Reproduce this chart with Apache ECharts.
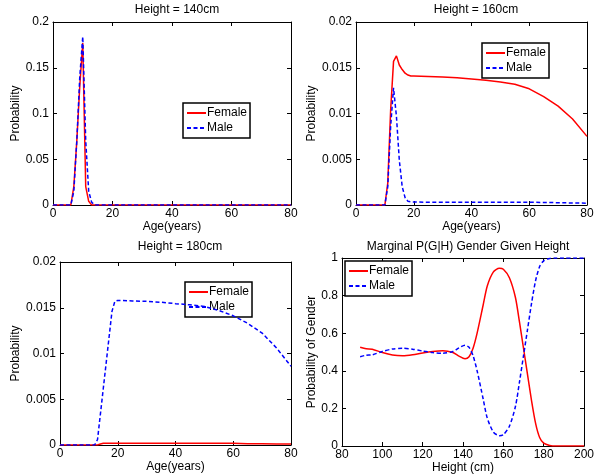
<!DOCTYPE html>
<html><head><meta charset="utf-8">
<script src="https://cdn.jsdelivr.net/npm/echarts@6/dist/echarts.min.js"></script>
<style>html,body{margin:0;padding:0;background:#fff}#c{width:600px;height:475px}</style>
</head><body><div id="c"></div><script>
// ---- Data ----
const titles = ['Height = 140cm', 'Height = 160cm', 'Height = 180cm', 'Marginal P(G|H) Gender Given Height'];
const seriesNames = ['Female', 'Male'];

const ages140 = [0, 5, 6, 7, 8, 9, 10, 11, 12, 13, 14, 15, 20, 40, 60, 80];
const female140 = [0, 0, 0, 0.02, 0.07, 0.13, 0.177, 0.02, 0.004, 0, 0, 0, 0, 0, 0, 0];
const male140 = [0, 0, 0, 0.015, 0.07, 0.14, 0.184, 0.07, 0.015, 0.003, 0, 0, 0, 0, 0, 0];

const ages160 = [0, 9, 10, 11, 12, 13, 14, 15, 16, 17, 18, 19, 20, 25, 30, 35, 40, 45, 50, 55, 60, 65, 70, 75, 80];
const female160 = [0, 0, 0, 0.0024, 0.0104, 0.0157, 0.0163, 0.0153, 0.0148, 0.0144, 0.0142, 0.0141, 0.0141, 0.01405, 0.01398, 0.0139, 0.01378, 0.01363, 0.01345, 0.0132, 0.0127, 0.01185, 0.0108, 0.0094, 0.0075];
const male160 = [0, 0, 0, 0.002, 0.0086, 0.0128, 0.0097, 0.0049, 0.002, 0.0008, 0.0004, 0.00035, 0.00033, 0.0003, 0.0003, 0.0003, 0.0003, 0.0003, 0.0003, 0.0003, 0.0003, 0.00028, 0.00025, 0.00022, 0.0002];

const ages180 = [0, 12, 13, 14, 15, 16, 17, 18, 19, 20, 25, 30, 35, 40, 45, 50, 55, 60, 65, 70, 75, 80];
const female180 = [0, 0, 0, 0.0001, 0.0002, 0.0002, 0.0002, 0.0002, 0.0002, 0.0002, 0.0002, 0.0002, 0.0002, 0.0002, 0.0002, 0.0002, 0.0002, 0.0002, 0.00015, 0.00015, 0.0001, 0.0001];
const male180 = [0, 0, 0.0006, 0.0034, 0.0062, 0.009, 0.0118, 0.0146, 0.0157, 0.0158, 0.01575, 0.0157, 0.0156, 0.01545, 0.01532, 0.01515, 0.0147, 0.01412, 0.0133, 0.01223, 0.0106, 0.0086];

const heights = [89, 92, 95, 100, 105, 110, 115, 120, 125, 130, 135, 138, 141, 143, 145, 147, 150, 152, 155, 158, 160, 163, 166, 168, 170, 172, 174, 176, 178, 180, 183, 186, 190, 195, 200];
const femaleMarg = [0.525, 0.517, 0.515, 0.497, 0.484, 0.480, 0.485, 0.495, 0.503, 0.507, 0.497, 0.478, 0.464, 0.475, 0.52, 0.60, 0.75, 0.85, 0.925, 0.945, 0.94, 0.895, 0.79, 0.66, 0.52, 0.38, 0.24, 0.12, 0.045, 0.015, 0.003, 0, 0, 0, 0];
const maleMarg = [0.475, 0.483, 0.485, 0.503, 0.516, 0.520, 0.515, 0.505, 0.497, 0.493, 0.503, 0.522, 0.536, 0.525, 0.48, 0.40, 0.25, 0.15, 0.075, 0.055, 0.06, 0.105, 0.21, 0.34, 0.48, 0.62, 0.76, 0.88, 0.955, 0.985, 0.997, 1, 1, 1, 1];

const xTicks = [{min: 0, max: 80, interval: 20}, {min: 0, max: 80, interval: 20}, {min: 0, max: 80, interval: 20}, {min: 80, max: 200, interval: 20}];
const yTicks = [{min: 0, max: 0.2, interval: 0.05}, {min: 0, max: 0.02, interval: 0.005}, {min: 0, max: 0.02, interval: 0.005}, {min: 0, max: 1, interval: 0.2}];
const xNames = ['Age(years)', 'Age(years)', 'Age(years)', 'Height (cm)'];
const yNames = ['Probability', 'Probability', 'Probability', 'Probability of Gender'];

// ---- Layout / style ----
const FONT = 'Liberation Sans, Arial, Helvetica, sans-serif';
const grids = [
  {left: 53, top: 22, width: 238, height: 183},
  {left: 356, top: 22, width: 231, height: 183},
  {left: 60, top: 262, width: 231, height: 183},
  {left: 342, top: 258, width: 242, height: 188}
];
const yNameGaps = [28, 32, 33, 19];
const titlePos = [[172, -1], [471, -1], [175, 236], [463, 236]];
const legendPos = [[183, 103], [482, 43], [185, 282], [345, 261]];

function zip(xs, ys) { return xs.map((x, i) => [x, ys[i]]); }
const seriesData = [
  [zip(ages140, female140), zip(ages140, male140)],
  [zip(ages160, female160), zip(ages160, male160)],
  [zip(ages180, female180), zip(ages180, male180)],
  [zip(heights, femaleMarg), zip(heights, maleMarg)]
];

const axisLine = {show: true, onZero: false, lineStyle: {color: '#000', width: 1}};
const axisTick = {show: true, inside: true, length: 4, lineStyle: {color: '#000'}};
const labelStyle = {color: '#000', fontSize: 12, fontFamily: FONT};

const xAxis = [], yAxis = [], series = [], title = [], legend = [];
grids.forEach((g, i) => {
  xAxis.push({type: 'value', gridIndex: i, position: 'bottom', min: xTicks[i].min, max: xTicks[i].max, interval: xTicks[i].interval,
    axisLine, axisTick, splitLine: {show: false}, axisLabel: Object.assign({margin: 3}, labelStyle),
    name: xNames[i], nameLocation: 'middle', nameGap: 15, nameTextStyle: labelStyle});
  xAxis.push({type: 'value', gridIndex: i, position: 'top', min: xTicks[i].min, max: xTicks[i].max, interval: xTicks[i].interval,
    axisLine, axisTick, splitLine: {show: false}, axisLabel: {show: false}});
  yAxis.push({type: 'value', gridIndex: i, position: 'left', min: yTicks[i].min, max: yTicks[i].max, interval: yTicks[i].interval,
    axisLine, axisTick, splitLine: {show: false}, axisLabel: Object.assign({margin: 4}, labelStyle),
    name: yNames[i], nameLocation: 'middle', nameGap: yNameGaps[i], nameTextStyle: labelStyle});
  yAxis.push({type: 'value', gridIndex: i, position: 'right', min: yTicks[i].min, max: yTicks[i].max, interval: yTicks[i].interval,
    axisLine, axisTick, splitLine: {show: false}, axisLabel: {show: false}});
  series.push({name: seriesNames[0], type: 'line', xAxisIndex: 2 * i, yAxisIndex: 2 * i, data: seriesData[i][0],
    symbol: 'none', smooth: i === 3 ? 0.25 : false, lineStyle: {color: '#ff0000', width: 1.5, type: 'solid'}, itemStyle: {color: '#ff0000'}, z: 3});
  series.push({name: seriesNames[1], type: 'line', xAxisIndex: 2 * i, yAxisIndex: 2 * i, data: seriesData[i][1],
    symbol: 'none', smooth: i === 3 ? 0.25 : false, lineStyle: {color: '#0000ff', width: 1.5, type: [4, 2.5]}, itemStyle: {color: '#0000ff'}, z: 4});
  title.push({text: titles[i], left: titlePos[i][0], top: titlePos[i][1], textAlign: 'center',
    textStyle: {color: '#000', fontSize: 12, fontWeight: 'normal', fontFamily: FONT}});
  legend.push({data: seriesNames, left: legendPos[i][0], top: legendPos[i][1], orient: 'vertical',
    itemWidth: 19, itemHeight: 10, itemGap: 3, padding: [4, 3, 4, 3], borderColor: '#000', borderWidth: 1.5,
    itemStyle: {opacity: 0}, backgroundColor: '#fff', selectedMode: false,
    textStyle: {color: '#000', fontSize: 12, fontFamily: FONT, padding: [0, 0, 0, -4]}});
});

const chart = echarts.init(document.getElementById('c'), null, {renderer: 'canvas'});
chart.setOption({animation: false, backgroundColor: '#fff', title, legend, grid: grids, xAxis, yAxis, series});
</script></body></html>
